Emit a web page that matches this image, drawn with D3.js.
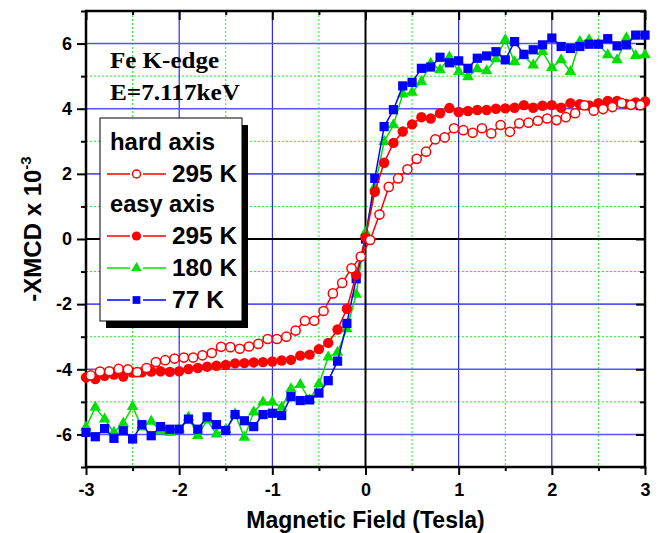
<!DOCTYPE html>
<html>
<head>
<meta charset="utf-8">
<script src="https://cdn.jsdelivr.net/npm/d3@7"></script>
<style>
body { margin: 0; background: #fff; }
svg text { font-family: Arial, "Liberation Sans", sans-serif; font-weight: bold; }
</style>
</head>
<body>
<script>
// hard axis sample, 295 K
var hardField = [-2.95, -2.85, -2.75, -2.65, -2.55, -2.45, -2.35, -2.25, -2.15, -2.05,
    -1.95, -1.85, -1.75, -1.65, -1.55, -1.45, -1.35, -1.25, -1.15, -1.05,
    -0.95, -0.85, -0.75, -0.65, -0.55, -0.45, -0.35, -0.25, -0.15, -0.05,
    0.05, 0.15, 0.25, 0.35, 0.45, 0.55, 0.65, 0.75, 0.85, 0.95,
    1.05, 1.15, 1.25, 1.35, 1.45, 1.55, 1.65, 1.75, 1.85, 1.95,
    2.05, 2.15, 2.25, 2.35, 2.45, 2.55, 2.65, 2.75, 2.85, 2.95];
var hard295 = [-4.19, -4.07, -4.06, -3.99, -4.00, -4.09, -3.96, -3.78, -3.72, -3.67,
    -3.64, -3.64, -3.57, -3.50, -3.31, -3.32, -3.37, -3.30, -3.22, -3.07,
    -3.07, -3.00, -2.81, -2.51, -2.51, -2.21, -1.67, -1.35, -0.90, -0.54,
    -0.03, 0.75, 1.60, 1.86, 2.14, 2.46, 2.68, 3.06, 3.12, 3.40,
    3.34, 3.26, 3.40, 3.24, 3.50, 3.29, 3.55, 3.57, 3.63, 3.70,
    3.65, 3.74, 3.86, 4.10, 3.94, 3.99, 4.05, 4.17, 4.12, 4.11];

// easy axis sample, 295 / 180 / 77 K
var easyField = [-3.0, -2.9, -2.8, -2.7, -2.6, -2.5, -2.4, -2.3, -2.2, -2.1,
    -2.0, -1.9, -1.8, -1.7, -1.6, -1.5, -1.4, -1.3, -1.2, -1.1,
    -1.0, -0.9, -0.8, -0.7, -0.6, -0.5, -0.4, -0.3, -0.2, -0.1,
    0.0, 0.1, 0.2, 0.3, 0.4, 0.5, 0.6, 0.7, 0.8, 0.9,
    1.0, 1.1, 1.2, 1.3, 1.4, 1.5, 1.6, 1.7, 1.8, 1.9,
    2.0, 2.1, 2.2, 2.3, 2.4, 2.5, 2.6, 2.7, 2.8, 2.9, 3.0];
var easy295 = [-4.25, -4.30, -4.20, -4.16, -4.22, -4.10, -4.09, -4.07, -4.06, -4.08,
    -4.06, -3.99, -3.96, -3.92, -3.89, -3.87, -3.82, -3.81, -3.79, -3.78,
    -3.76, -3.73, -3.71, -3.58, -3.55, -3.38, -3.19, -2.78, -2.14, -1.10,
    0.05, 1.45, 2.34, 2.95, 3.30, 3.52, 3.74, 3.70, 3.86, 4.02,
    3.90, 3.93, 3.96, 3.96, 4.00, 4.01, 4.03, 4.11, 4.03, 4.09,
    4.11, 4.03, 4.17, 4.14, 4.10, 4.17, 4.24, 4.24, 4.15, 4.19, 4.22];
var easy180 = [-5.78, -5.17, -5.53, -5.94, -5.66, -5.15, -5.78, -5.60, -5.89, -5.94,
    -5.84, -5.48, -6.04, -5.56, -5.99, -5.85, -5.37, -6.09, -5.32, -5.01,
    -5.01, -5.17, -4.60, -4.47, -4.94, -4.45, -3.63, -3.48, -2.76, -1.70,
    0.20, 1.60, 2.99, 3.50, 4.45, 4.50, 4.83, 5.39, 5.19, 5.58,
    5.14, 4.98, 5.22, 5.16, 5.53, 6.11, 5.44, 5.62, 5.34, 5.75,
    5.26, 5.50, 5.14, 6.06, 6.11, 6.00, 5.65, 5.50, 6.17, 5.63, 5.65];
var easy77 = [-5.94, -6.07, -5.82, -6.12, -5.89, -6.14, -5.70, -6.04, -5.76, -5.84,
    -5.84, -5.53, -5.84, -5.46, -5.70, -5.88, -5.39, -5.58, -5.76, -5.39,
    -5.35, -5.42, -4.84, -4.96, -4.94, -4.73, -4.35, -3.75, -2.59, -1.22,
    0.00, 1.86, 3.45, 3.97, 4.70, 4.81, 5.24, 5.28, 5.58, 5.41,
    5.47, 5.24, 5.55, 5.62, 5.75, 5.50, 6.06, 5.67, 5.81, 5.96,
    6.17, 5.91, 5.85, 5.91, 5.98, 5.98, 6.15, 5.93, 5.96, 6.26, 6.26];

var xTicks = [-3, -2, -1, 0, 1, 2, 3];
var xMinor = [-2.5, -1.5, -0.5, 0.5, 1.5, 2.5];
var yTicks = [-6, -4, -2, 0, 2, 4, 6];
var yMinor = [-7, -5, -3, -1, 1, 3, 5, 7];

function plot_it () {
    var width = 661, height = 533;
    var svg = d3.select('body').append('svg').attr('width', width).attr('height', height);

    var x = d3.scaleLinear().domain([-3, 3]).range([86, 645]);
    var y = d3.scaleLinear().domain([-7, 7]).range([467, 11]);

    var red = '#ff0000', green = '#00e000', blue = '#0000ff';

    // grid: dotted green minors, blue majors
    var grid = svg.append('g');
    grid.selectAll('.vmin').data(xMinor).enter().append('line')
        .attr('x1', d => x(d)).attr('x2', d => x(d)).attr('y1', y(7)).attr('y2', y(-7))
        .attr('stroke', '#22ee22').attr('stroke-width', 1).attr('stroke-dasharray', '2,2');
    grid.selectAll('.hmin').data(yMinor.filter(d => Math.abs(d) < 7)).enter().append('line')
        .attr('x1', x(-3)).attr('x2', x(3)).attr('y1', d => y(d)).attr('y2', d => y(d))
        .attr('stroke', '#22ee22').attr('stroke-width', 1).attr('stroke-dasharray', '2,2');
    grid.selectAll('.vmaj').data(xTicks.filter(d => d != 0 && Math.abs(d) < 3)).enter().append('line')
        .attr('x1', d => x(d)).attr('x2', d => x(d)).attr('y1', y(7)).attr('y2', y(-7))
        .attr('stroke', blue).attr('stroke-width', 1);
    grid.selectAll('.hmaj').data(yTicks.filter(d => d != 0)).enter().append('line')
        .attr('x1', x(-3)).attr('x2', x(3)).attr('y1', d => y(d)).attr('y2', d => y(d))
        .attr('stroke', '#5555ff').attr('stroke-width', 1.6);

    // zero lines
    svg.append('line').attr('x1', x(-3)).attr('x2', x(3)).attr('y1', y(0)).attr('y2', y(0))
        .attr('stroke', '#000').attr('stroke-width', 2);
    svg.append('line').attr('x1', x(0)).attr('x2', x(0)).attr('y1', y(7)).attr('y2', y(-7))
        .attr('stroke', '#000').attr('stroke-width', 2);

    // axes
    function styleAxis(g) {
        g.select('.domain').remove();
        g.attr('font-size', 18).attr('font-family', 'Arial, "Liberation Sans", sans-serif');
        g.selectAll('line').attr('stroke', '#000').attr('stroke-width', 2);
        g.selectAll('text').attr('fill', '#000');
    }
    var noLabel = function () { return ''; };

    svg.append('g').attr('transform', 'translate(' + x(-3) + ',0)')
        .call(d3.axisLeft(y).tickValues(yTicks).tickSize(9).tickPadding(5).tickFormat(d => String(d)))
        .call(styleAxis);
    svg.append('g').attr('transform', 'translate(' + x(-3) + ',0)')
        .call(d3.axisLeft(y).tickValues(yMinor).tickSize(5).tickFormat(noLabel)).call(styleAxis);
    svg.append('g').attr('transform', 'translate(0,' + y(-7) + ')')
        .call(d3.axisBottom(x).tickValues(xTicks).tickSize(8).tickPadding(8).tickFormat(d => String(d)))
        .call(styleAxis);
    svg.append('g').attr('transform', 'translate(0,' + y(-7) + ')')
        .call(d3.axisBottom(x).tickValues(xMinor).tickSize(4).tickFormat(noLabel)).call(styleAxis);
    svg.append('g').attr('transform', 'translate(0,' + y(7) + ')')
        .call(d3.axisTop(x).tickValues(xTicks).tickSize(-9).tickFormat(noLabel)).call(styleAxis);
    svg.append('g').attr('transform', 'translate(0,' + y(7) + ')')
        .call(d3.axisTop(x).tickValues(xMinor).tickSize(-4).tickFormat(noLabel)).call(styleAxis);
    svg.append('g').attr('transform', 'translate(' + x(3) + ',0)')
        .call(d3.axisRight(y).tickValues(yTicks).tickSize(-9).tickFormat(noLabel)).call(styleAxis);
    svg.append('g').attr('transform', 'translate(' + x(3) + ',0)')
        .call(d3.axisRight(y).tickValues(yMinor).tickSize(-5).tickFormat(noLabel)).call(styleAxis);

    svg.append('rect').attr('x', x(-3)).attr('y', y(7))
        .attr('width', x(3) - x(-3)).attr('height', y(-7) - y(7))
        .attr('fill', 'none').attr('stroke', '#000').attr('stroke-width', 2.5);

    // series
    var line = d3.line().x(d => x(d[0])).y(d => y(d[1]));
    var tri = d3.symbol().type(d3.symbolTriangle).size(58);
    var sq = d3.symbol().type(d3.symbolSquare).size(85);

    function drawSeries(field, vals, color, marker) {
        var pts = d3.zip(field, vals);
        var g = svg.append('g');
        g.append('path').datum(pts).attr('d', line)
            .attr('fill', 'none').attr('stroke', color).attr('stroke-width', 1.5);
        var m = g.selectAll('.pt').data(pts).enter();
        if (marker == 'open') {
            m.append('circle').attr('cx', d => x(d[0])).attr('cy', d => y(d[1])).attr('r', 4.6)
                .attr('fill', '#fff').attr('stroke', color).attr('stroke-width', 1.5);
        } else if (marker == 'dot') {
            m.append('circle').attr('cx', d => x(d[0])).attr('cy', d => y(d[1])).attr('r', 5.2)
                .attr('fill', color);
        } else {
            m.append('path').attr('d', marker == 'tri' ? tri : sq)
                .attr('transform', d => 'translate(' + x(d[0]) + ',' + y(d[1]) + ')')
                .attr('fill', color);
        }
    }
    drawSeries(easyField, easy180, green, 'tri');
    drawSeries(easyField, easy77, blue, 'sq');
    drawSeries(easyField, easy295, red, 'dot');
    drawSeries(hardField, hard295, red, 'open');

    // annotation
    svg.append('text').attr('x', 110).attr('y', 68).text('Fe K-edge')
        .style('font-family', '"Liberation Serif", "Times New Roman", serif').attr('font-size', 24)
        .attr('textLength', 109).attr('lengthAdjust', 'spacingAndGlyphs');
    svg.append('text').attr('x', 110).attr('y', 100).text('E=7.117keV')
        .style('font-family', '"Liberation Serif", "Times New Roman", serif').attr('font-size', 24)
        .attr('textLength', 130).attr('lengthAdjust', 'spacingAndGlyphs');

    // legend
    svg.append('rect').attr('x', 106).attr('y', 125).attr('width', 142).attr('height', 203).attr('fill', '#000');
    svg.append('rect').attr('x', 100).attr('y', 118).attr('width', 142).attr('height', 203)
        .attr('fill', '#fff').attr('stroke', '#000').attr('stroke-width', 1);

    var leg = svg.append('g');
    leg.append('text').attr('x', 110).attr('y', 150).attr('font-size', 23).text('hard axis')
        .attr('textLength', 105).attr('lengthAdjust', 'spacingAndGlyphs');
    leg.append('text').attr('x', 110).attr('y', 212).attr('font-size', 23).text('easy axis')
        .attr('textLength', 105).attr('lengthAdjust', 'spacingAndGlyphs');
    var rows = [
        {label: '295 K', color: red, marker: 'open', ly: 174, w: 65},
        {label: '295 K', color: red, marker: 'dot', ly: 236, w: 65},
        {label: '180 K', color: green, marker: 'tri', ly: 268, w: 65},
        {label: '77 K', color: blue, marker: 'sq', ly: 300, w: 52}
    ];
    rows.forEach(function (r) {
        leg.append('line').attr('x1', 107).attr('x2', 130).attr('y1', r.ly).attr('y2', r.ly)
            .attr('stroke', r.color).attr('stroke-width', 1.5);
        leg.append('line').attr('x1', 143).attr('x2', 166).attr('y1', r.ly).attr('y2', r.ly)
            .attr('stroke', r.color).attr('stroke-width', 1.5);
        if (r.marker == 'open') {
            leg.append('circle').attr('cx', 136.5).attr('cy', r.ly).attr('r', 4)
                .attr('fill', '#fff').attr('stroke', r.color).attr('stroke-width', 1.5);
        } else if (r.marker == 'dot') {
            leg.append('circle').attr('cx', 136.5).attr('cy', r.ly).attr('r', 4.6).attr('fill', r.color);
        } else {
            leg.append('path').attr('d', d3.symbol().type(r.marker == 'tri' ? d3.symbolTriangle : d3.symbolSquare).size(r.marker == 'tri' ? 48 : 60))
                .attr('transform', 'translate(136.5,' + r.ly + ')').attr('fill', r.color);
        }
        leg.append('text').attr('x', 172).attr('y', r.ly + 8).attr('font-size', 23).text(r.label)
            .attr('textLength', r.w).attr('lengthAdjust', 'spacingAndGlyphs');
    });

    // axis titles
    svg.append('text').attr('x', (x(-3) + x(3)) / 2).attr('y', 528)
        .attr('text-anchor', 'middle').attr('font-size', 23).text('Magnetic Field (Tesla)');
    var yl = svg.append('text').attr('transform', 'translate(41,229) rotate(-90)')
        .attr('text-anchor', 'middle').attr('font-size', 24);
    yl.append('tspan').text('-XMCD x 10');
    yl.append('tspan').attr('dy', -10).attr('font-size', 15).text('-3');
}

plot_it();
</script>
</body>
</html>
